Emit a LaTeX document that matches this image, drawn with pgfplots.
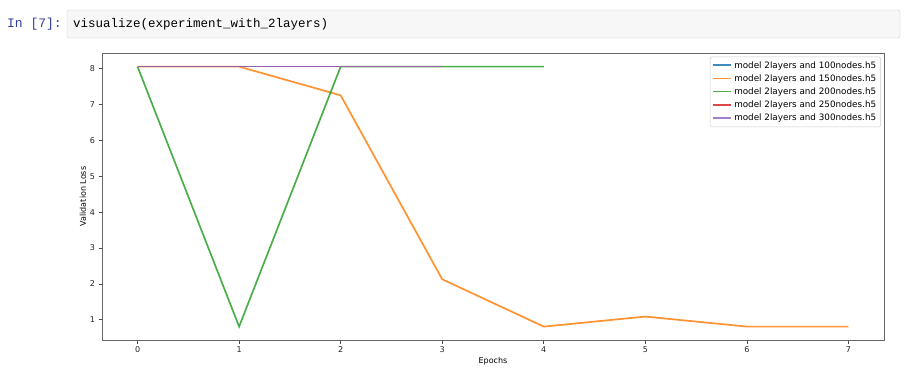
\documentclass[border=0pt]{standalone}
\usepackage{pgfplots}
\pgfplotsset{compat=1.18}
\usepackage{fontspec}
\setmainfont{DejaVu Sans}
\newfontfamily\codefont{Liberation Mono}
\definecolor{tabblue}{HTML}{1F77B4}
\definecolor{taborange}{HTML}{FF7F0E}
\definecolor{tabgreen}{HTML}{2CA02C}
\definecolor{tabred}{HTML}{D62728}
\definecolor{tabpurple}{HTML}{9467BD}
\definecolor{promptblue}{HTML}{303F9F}
\begin{document}
\begin{tikzpicture}[x=1pt,y=1pt]
\useasboundingbox (0,0) rectangle (907,-376);
\fill[white] (0,0) rectangle (907,-376);
\draw[draw=black!19, fill=black!3, rounded corners=2pt] (67,-10) rectangle (900,-38);
\node[anchor=west, inner sep=0pt, text=promptblue] at (7,-24) {\codefont\fontsize{13}{15}\selectfont In [7]:};
\node[anchor=west, inner sep=0pt] at (73,-24) {\codefont\fontsize{12.5}{14}\selectfont visualize(experiment\_with\_2layers)};
\begin{axis}[
  at={(102pt,-340pt)}, anchor=south west,
  scale only axis, width=782pt, height=287pt,
  xmin=-0.35, xmax=7.35, ymin=0.436, ymax=8.44,
  xtick={0,...,7}, ytick={1,...,8},
  tick align=outside, tick pos=left,
  major tick length=3.5pt,
  axis line style={black!60, line width=0.8pt},
  every tick/.style={black!70, line width=0.6pt},
  tick label style={font=\fontsize{8}{9}\selectfont, text=black!85},
  /pgf/number format/assume math mode=true,
  xlabel={Epochs}, ylabel={Validation Loss},
  label style={font=\fontsize{8}{9}\selectfont},
  xlabel style={yshift=3pt},
  ylabel style={yshift=-3pt},
  legend style={font=\fontsize{8.8}{10}\selectfont, draw=black!20, rounded corners=1.5pt, at={(0.996,0.987)}, anchor=north east, row sep=1pt, inner sep=2.5pt},
  legend cell align=left,
  legend image code/.code={\draw[#1, line width=1.7pt] (0pt,0.3pt) -- (18pt,0.3pt);},
]
\addplot[tabblue, line width=1.7pt, opacity=0.85] coordinates {(0,8.06) (1,8.06) (2,8.06) (3,8.06)};
\addlegendentry{model 2layers and 100nodes.h5}
\addplot[taborange, line width=1.7pt, opacity=0.85] coordinates {(0,8.06) (1,8.06) (2,7.26) (3,2.13) (4,0.81) (5,1.09) (6,0.81) (7,0.81)};
\addlegendentry{model 2layers and 150nodes.h5}
\addplot[tabgreen, line width=1.7pt, opacity=0.85] coordinates {(0,8.06) (1,0.81) (2,8.06) (3,8.06) (4,8.06)};
\addlegendentry{model 2layers and 200nodes.h5}
\addplot[tabred, line width=1.7pt, opacity=0.85] coordinates {(0,8.06) (1,8.06) (2,8.06) (3,8.06)};
\addlegendentry{model 2layers and 250nodes.h5}
\addplot[tabpurple, line width=1.7pt, opacity=0.85] coordinates {(0,8.06) (1,8.06) (2,8.06) (3,8.06)};
\addlegendentry{model 2layers and 300nodes.h5}
\end{axis}
\end{tikzpicture}
\end{document}
